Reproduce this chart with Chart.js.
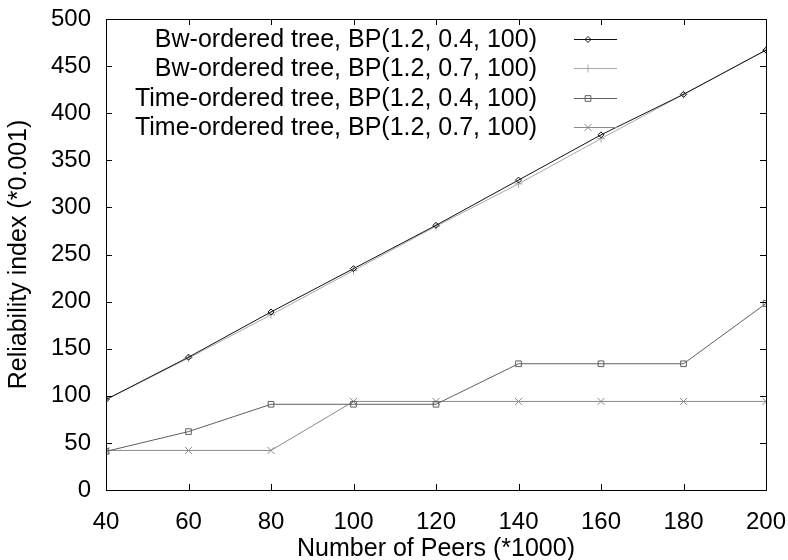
<!DOCTYPE html>
<html>
<head>
<meta charset="utf-8">
<script src="https://cdn.jsdelivr.net/npm/chart.js@4/dist/chart.umd.min.js"></script>
<style>
  html, body { margin: 0; padding: 0; background: #fff; }
  #wrap { width: 788px; height: 560px; }
</style>
</head>
<body>
<div id="wrap"><canvas id="chart"></canvas></div>
<script>
// Peers in thousands
const peers = [40, 60, 80, 100, 120, 140, 160, 180, 200];

// Reliability index (*0.001)
const bwOrdered04 = [96, 141, 189, 235, 281, 329, 377, 420, 467];
const bwOrdered07 = [96, 140, 186, 233, 280, 325, 373, 420, 467];
const timeOrdered04 = [41, 62, 91, 91, 91, 134, 134, 134, 198];
const timeOrdered07 = [42, 42, 42, 94, 94, 94, 94, 94, 94];

const seriesLabels = [
  'Bw-ordered tree, BP(1.2, 0.4, 100)',
  'Bw-ordered tree, BP(1.2, 0.7, 100)',
  'Time-ordered tree, BP(1.2, 0.4, 100)',
  'Time-ordered tree, BP(1.2, 0.7, 100)'
];

const FONT = '"Liberation Sans", Arial, Helvetica, sans-serif';

function toPoints(values) {
  return values.map((v, i) => ({ x: peers[i], y: v }));
}

function makeDataset(label, values, color, style, radius) {
  return {
    label: label,
    data: toPoints(values),
    borderColor: color,
    backgroundColor: 'rgba(0,0,0,0)',
    borderWidth: 1,
    pointStyle: style,
    pointRadius: radius,
    pointBorderColor: color,
    pointBorderWidth: 1,
    pointBackgroundColor: 'rgba(0,0,0,0)',
    tension: 0,
    fill: false
  };
}

// gnuplot-like frame with inward ticks on all four sides
const framePlugin = {
  id: 'frame',
  afterDatasetsDraw(chart) {
    const { ctx, chartArea: a, scales } = chart;
    const len = 6;
    ctx.save();
    ctx.strokeStyle = '#000';
    ctx.lineWidth = 1;
    ctx.beginPath();
    scales.y.ticks.forEach(t => {
      const y = Math.round(scales.y.getPixelForValue(t.value)) + 0.5;
      ctx.moveTo(a.left, y); ctx.lineTo(a.left + len, y);
      ctx.moveTo(a.right, y); ctx.lineTo(a.right - len, y);
    });
    scales.x.ticks.forEach(t => {
      const x = Math.round(scales.x.getPixelForValue(t.value)) + 0.5;
      ctx.moveTo(x, a.bottom); ctx.lineTo(x, a.bottom - len);
      ctx.moveTo(x, a.top); ctx.lineTo(x, a.top + len);
    });
    ctx.stroke();
    ctx.strokeRect(Math.round(a.left) + 0.5, Math.round(a.top) + 0.5,
      Math.round(a.right - a.left), Math.round(a.bottom - a.top));
    ctx.restore();
  }
};

// key inside the plot, text on the left, sample on the right
const keyPlugin = {
  id: 'key',
  afterDatasetsDraw(chart) {
    const { ctx, chartArea: a } = chart;
    const textRight = a.right - 229;
    const lineX0 = a.right - 192;
    const lineX1 = a.right - 149;
    const markX = a.right - 178;
    ctx.save();
    ctx.font = '25px ' + FONT;
    ctx.textAlign = 'right';
    ctx.textBaseline = 'middle';
    chart.data.datasets.forEach((ds, i) => {
      const y = Math.round(a.top + 20 + i * 29.4) + 0.5;
      ctx.fillStyle = '#000';
      ctx.fillText(ds.label, textRight, y + 1);
      ctx.strokeStyle = ds.borderColor;
      ctx.lineWidth = 1;
      ctx.beginPath();
      ctx.moveTo(lineX0, y);
      ctx.lineTo(lineX1, y);
      ctx.stroke();
      if (Chart.helpers && Chart.helpers.drawPoint) {
        ctx.fillStyle = 'rgba(0,0,0,0)';
        Chart.helpers.drawPoint(ctx, {
          pointStyle: ds.pointStyle,
          radius: ds.pointRadius,
          borderWidth: 1,
          rotation: 0
        }, markX, y);
      }
    });
    ctx.restore();
  }
};

new Chart(document.getElementById('chart'), {
  type: 'line',
  data: {
    datasets: [
      makeDataset(seriesLabels[0], bwOrdered04, '#111111', 'rectRot', 3),
      makeDataset(seriesLabels[1], bwOrdered07, '#a8a8a8', 'cross', 4),
      makeDataset(seriesLabels[2], timeOrdered04, '#5e5e5e', 'rect', 4),
      makeDataset(seriesLabels[3], timeOrdered07, '#8a8a8a', 'crossRot', 5)
    ]
  },
  options: {
    responsive: true,
    maintainAspectRatio: false,
    animation: false,
    layout: {
      padding: { top: 19, right: 22, left: 0, bottom: 0 }
    },
    plugins: {
      legend: { display: false },
      tooltip: { enabled: false }
    },
    scales: {
      x: {
        type: 'linear',
        min: 40,
        max: 200,
        grid: { display: false, drawTicks: false },
        border: { display: false },
        ticks: {
          stepSize: 20,
          padding: 18,
          color: '#000',
          font: { size: 24, family: FONT }
        },
        title: {
          display: true,
          text: 'Number of Peers (*1000)',
          color: '#000',
          padding: { top: 0, bottom: -4 },
          font: { size: 25, family: FONT }
        },
        afterFit(scale) {
          scale.height = 70;
          scale.paddingLeft = 0;
          scale.paddingRight = 0;
        }
      },
      y: {
        min: 0,
        max: 500,
        grid: { display: false, drawTicks: false },
        border: { display: false },
        ticks: {
          stepSize: 50,
          padding: 15,
          color: '#000',
          font: { size: 24, family: FONT }
        },
        title: {
          display: true,
          text: 'Reliability index (*0.001)',
          color: '#000',
          padding: { top: 4, bottom: 0 },
          font: { size: 25, family: FONT }
        },
        afterFit(scale) {
          scale.width = 106;
          scale.paddingTop = 0;
          scale.paddingBottom = 0;
        }
      }
    }
  },
  plugins: [framePlugin, keyPlugin]
});
</script>
</body>
</html>
